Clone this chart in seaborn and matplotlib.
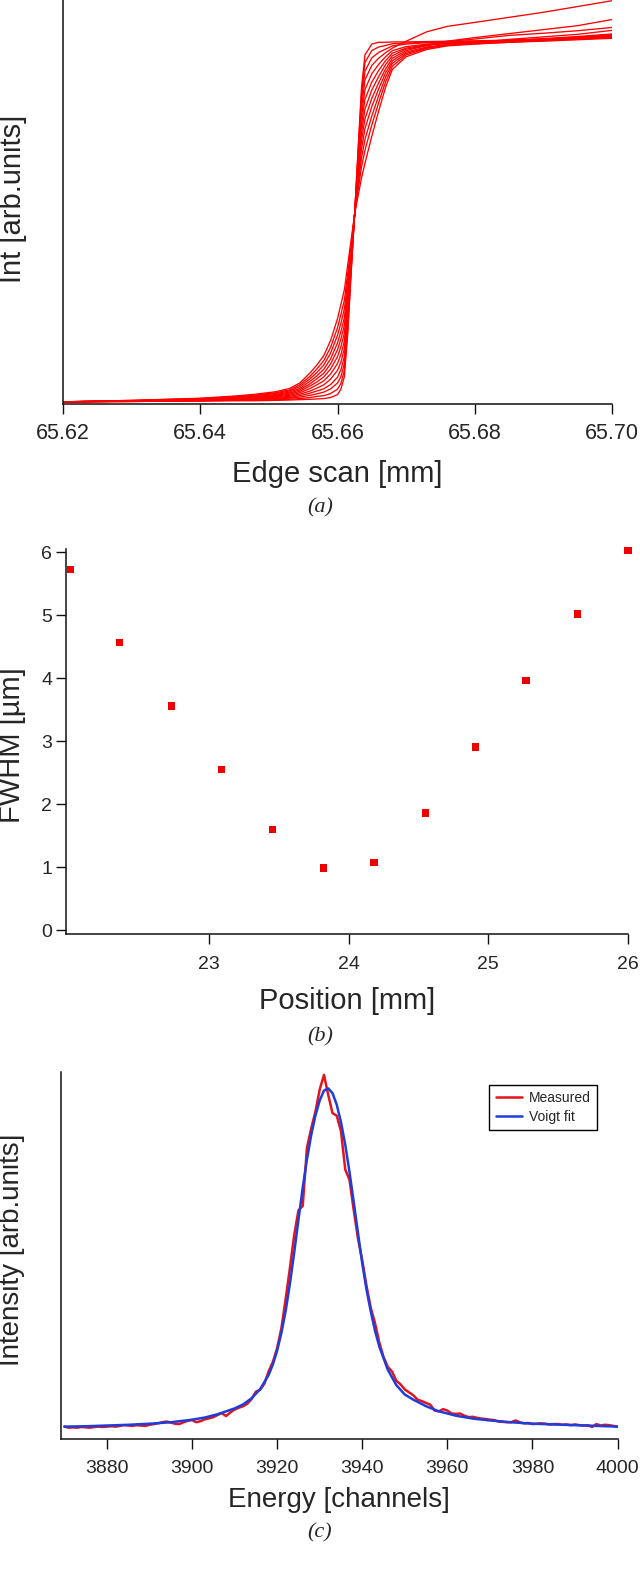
import numpy as np
import pandas as pd
import matplotlib
matplotlib.use('Agg')
import matplotlib.pyplot as plt
import seaborn as sns

sns.set_theme(style='ticks')
plt.rcParams['font.family'] = ['Liberation Sans', 'DejaVu Sans']

# (a) edge scans: stage position [mm] and normalised intensity of each scan
edge_pos = [65.620, 65.630, 65.640, 65.645, 65.648, 65.651, 65.653, 65.6545, 65.656, 65.657,
            65.658, 65.659, 65.660, 65.6605, 65.661, 65.6615, 65.662, 65.6625, 65.663, 65.6635,
            65.664, 65.665, 65.666, 65.667, 65.668, 65.670, 65.673, 65.676, 65.680, 65.685,
            65.690, 65.695, 65.700]
edge_scans = [
    [0.000, 0.001, 0.002, 0.003, 0.003, 0.004, 0.005, 0.006, 0.007, 0.008, 0.009,
     0.012, 0.020, 0.035, 0.070, 0.190, 0.360, 0.520, 0.700, 0.870, 0.960, 0.990,
     0.995, 0.995, 0.996, 0.996, 0.997, 0.998, 0.999, 1.001, 1.004, 1.008, 1.013],
    [0.000, 0.001, 0.003, 0.004, 0.004, 0.006, 0.007, 0.009, 0.012, 0.015, 0.017,
     0.023, 0.035, 0.051, 0.087, 0.203, 0.366, 0.520, 0.691, 0.852, 0.939, 0.972,
     0.982, 0.986, 0.991, 0.993, 0.995, 0.997, 1.004, 1.014, 1.020, 1.027, 1.036],
    [0.000, 0.001, 0.003, 0.005, 0.006, 0.008, 0.010, 0.013, 0.018, 0.022, 0.027,
     0.036, 0.052, 0.070, 0.106, 0.219, 0.374, 0.520, 0.681, 0.833, 0.915, 0.952,
     0.967, 0.976, 0.985, 0.990, 0.994, 0.996, 0.998, 1.000, 1.004, 1.009, 1.016],
    [0.000, 0.002, 0.004, 0.006, 0.007, 0.010, 0.012, 0.017, 0.024, 0.030, 0.036,
     0.048, 0.068, 0.089, 0.125, 0.234, 0.381, 0.520, 0.670, 0.813, 0.891, 0.931,
     0.951, 0.966, 0.979, 0.998, 1.024, 1.039, 1.050, 1.064, 1.078, 1.094, 1.110],
    [0.000, 0.002, 0.005, 0.007, 0.009, 0.012, 0.015, 0.021, 0.030, 0.038, 0.047,
     0.063, 0.087, 0.110, 0.147, 0.251, 0.389, 0.520, 0.658, 0.790, 0.864, 0.908,
     0.934, 0.955, 0.972, 0.983, 0.990, 0.994, 0.996, 0.999, 1.001, 1.004, 1.008],
    [0.000, 0.002, 0.005, 0.008, 0.010, 0.014, 0.018, 0.025, 0.037, 0.047, 0.058,
     0.077, 0.106, 0.131, 0.168, 0.268, 0.397, 0.520, 0.647, 0.768, 0.837, 0.885,
     0.917, 0.944, 0.965, 0.979, 0.988, 0.993, 0.996, 1.000, 1.005, 1.011, 1.018],
    [0.000, 0.002, 0.006, 0.010, 0.012, 0.016, 0.021, 0.029, 0.044, 0.055, 0.069,
     0.091, 0.125, 0.153, 0.190, 0.285, 0.405, 0.520, 0.635, 0.745, 0.810, 0.863,
     0.900, 0.933, 0.958, 0.976, 0.986, 0.992, 0.995, 0.998, 1.002, 1.006, 1.010],
    [0.000, 0.003, 0.007, 0.011, 0.014, 0.018, 0.024, 0.033, 0.050, 0.064, 0.079,
     0.105, 0.144, 0.174, 0.212, 0.302, 0.413, 0.520, 0.623, 0.723, 0.783, 0.840,
     0.883, 0.921, 0.951, 0.972, 0.986, 0.998, 1.008, 1.019, 1.030, 1.041, 1.058],
    [0.000, 0.003, 0.007, 0.012, 0.015, 0.020, 0.027, 0.037, 0.057, 0.072, 0.090,
     0.119, 0.163, 0.195, 0.233, 0.319, 0.421, 0.520, 0.612, 0.700, 0.756, 0.817,
     0.866, 0.910, 0.944, 0.968, 0.982, 0.989, 0.993, 0.997, 1.002, 1.007, 1.014],
    [0.000, 0.003, 0.008, 0.013, 0.017, 0.023, 0.030, 0.042, 0.064, 0.081, 0.102,
     0.135, 0.184, 0.218, 0.257, 0.338, 0.430, 0.520, 0.599, 0.675, 0.726, 0.791,
     0.847, 0.898, 0.937, 0.964, 0.980, 0.988, 0.994, 1.003, 1.010, 1.017, 1.028],
    [0.000, 0.004, 0.009, 0.014, 0.019, 0.025, 0.033, 0.047, 0.071, 0.091, 0.114,
     0.151, 0.205, 0.242, 0.281, 0.357, 0.439, 0.520, 0.586, 0.650, 0.696, 0.766,
     0.828, 0.885, 0.929, 0.960, 0.978, 0.987, 0.991, 0.995, 0.998, 1.002, 1.006],
    [0.000, 0.004, 0.010, 0.016, 0.021, 0.028, 0.037, 0.052, 0.080, 0.102, 0.128,
     0.170, 0.230, 0.270, 0.310, 0.380, 0.450, 0.520, 0.570, 0.620, 0.660, 0.735,
     0.805, 0.870, 0.920, 0.955, 0.975, 0.985, 0.990, 0.995, 1.000, 1.005, 1.012],
]
edge_ticks = [65.62, 65.64, 65.66, 65.68, 65.70]

# (b) focus scan
position_mm = [22.006, 22.36, 22.73, 23.09, 23.456, 23.82, 24.18, 24.55, 24.91, 25.27, 25.64, 26.0]
fwhm_um = [5.72, 4.57, 3.56, 2.55, 1.60, 0.99, 1.07, 1.86, 2.91, 3.96, 5.02, 6.03]

# (c) spectrum, one value per channel from 3870 to 4000
channels = np.arange(3870, 4001)
measured = [
    0.034, 0.031, 0.032, 0.031, 0.033, 0.032, 0.031, 0.033, 0.034, 0.033,
    0.034, 0.035, 0.034, 0.036, 0.038, 0.037, 0.036, 0.038, 0.037, 0.036,
    0.039, 0.041, 0.043, 0.046, 0.048, 0.045, 0.042, 0.041, 0.046, 0.050,
    0.052, 0.046, 0.049, 0.054, 0.057, 0.060, 0.066, 0.071, 0.063, 0.073,
    0.081, 0.086, 0.090, 0.097, 0.110, 0.130, 0.135, 0.152, 0.186, 0.212,
    0.250, 0.305, 0.385, 0.470, 0.560, 0.628, 0.640, 0.800, 0.853, 0.900,
    0.960, 1.000, 0.945, 0.895, 0.888, 0.845, 0.740, 0.712, 0.628, 0.550,
    0.490, 0.420, 0.360, 0.318, 0.265, 0.225, 0.198, 0.185, 0.160, 0.150,
    0.136, 0.128, 0.120, 0.108, 0.104, 0.099, 0.094, 0.078, 0.076, 0.082,
    0.078, 0.070, 0.069, 0.070, 0.064, 0.060, 0.061, 0.058, 0.056, 0.055,
    0.053, 0.052, 0.048, 0.047, 0.046, 0.046, 0.051, 0.046, 0.043, 0.044,
    0.041, 0.042, 0.043, 0.042, 0.040, 0.041, 0.041, 0.039, 0.040, 0.038,
    0.040, 0.038, 0.037, 0.038, 0.033, 0.041, 0.037, 0.039, 0.038, 0.036,
    0.034,
]
fit_ch = [3870, 3875, 3880, 3885, 3890, 3895, 3900, 3903, 3906, 3908, 3910, 3912, 3914, 3916,
          3918, 3919, 3920, 3921, 3922, 3923, 3924, 3925, 3926, 3927, 3928, 3929, 3930, 3931,
          3932, 3933, 3934, 3935, 3936, 3937, 3938, 3939, 3940, 3941, 3942, 3943, 3944, 3946,
          3948, 3950, 3952, 3955, 3958, 3962, 3966, 3970, 3975, 3980, 3985, 3990, 3995, 4000]
fit_val = [0.034, 0.035, 0.037, 0.039, 0.042, 0.046, 0.053, 0.059, 0.068, 0.076, 0.084, 0.095,
           0.112, 0.137, 0.176, 0.205, 0.243, 0.292, 0.352, 0.427, 0.512, 0.602, 0.690, 0.768,
           0.835, 0.889, 0.930, 0.957, 0.963, 0.950, 0.918, 0.870, 0.808, 0.733, 0.650, 0.565,
           0.482, 0.410, 0.350, 0.297, 0.254, 0.190, 0.148, 0.122, 0.108, 0.090, 0.076, 0.064,
           0.056, 0.051, 0.046, 0.042, 0.040, 0.038, 0.036, 0.034]

RED = '#ff0000'
RED_C = '#e3141c'
BLUE_C = '#1f3ddb'
W, H = 640, 1569

fig = plt.figure(figsize=(6.4, 15.69), dpi=100)


def px_axes(left, top, right, bottom):
    return fig.add_axes([left / W, 1 - bottom / H, (right - left) / W, (bottom - top) / H])


def style(ax, xsize, xpad, ylen=None):
    sns.despine(ax=ax)
    for s in ('left', 'bottom'):
        ax.spines[s].set_linewidth(1.1)
        ax.spines[s].set_color('#111111')
    ax.tick_params(axis='x', direction='out', length=7, width=1.0, pad=xpad,
                   labelsize=xsize, color='#111111')
    if ylen is None:
        ax.set_yticks([])
    else:
        ax.tick_params(axis='y', direction='out', length=ylen, width=1.0, pad=3,
                       labelsize=14, color='#111111')


def labels(ax, xl, yl, size, xy, yx, yy):
    ax.set_xlabel(xl, fontsize=size)
    ax.set_ylabel(yl, fontsize=size)
    ax.xaxis.set_label_coords(0.5, xy)
    ax.yaxis.set_label_coords(yx, yy)
    ax.xaxis.label.set_va('center')
    ax.yaxis.label.set_va('center')


# ---- (a)
ax1 = px_axes(63, 0, 612, 404)
rows = []
for k, vals in enumerate(edge_scans):
    for p, v in zip(edge_pos, vals):
        rows.append((k, p, v))
df_a = pd.DataFrame(rows, columns=['scan', 'pos', 'val'])
sns.lineplot(data=df_a, x='pos', y='val', units='scan', estimator=None,
             color=RED, lw=0.95, ax=ax1)
ax1.set_xlim(65.62, 65.70)
ax1.set_ylim(-0.006, 1.112)
ax1.set_xticks(edge_ticks)
ax1.set_xticklabels(['%.2f' % t for t in edge_ticks])
style(ax1, 15.5, 7)
labels(ax1, 'Edge scan [mm]', 'Int [arb.units]', 21, -0.173, -0.091, 0.507)

# ---- (b)
ax2 = px_axes(66, 549, 628, 934)
sns.scatterplot(x=position_mm, y=fwhm_um, marker='s', s=28, color='#ee0000',
                edgecolor='none', linewidth=0, clip_on=False, ax=ax2)
ax2.set_xlim(21.975, 26.0)
ax2.set_ylim(-0.06, 6.05)
ax2.set_xticks([23, 24, 25, 26])
ax2.set_yticks([0, 1, 2, 3, 4, 5, 6])
style(ax2, 14, 9, ylen=7)
labels(ax2, 'Position [mm]', 'FWHM [µm]', 21, -0.174, -0.096, 0.49)

# ---- (c)
ax3 = px_axes(61, 1072, 617.6, 1439)
sns.lineplot(x=channels, y=measured, color=RED_C, lw=1.8, label='Measured', ax=ax3)
sns.lineplot(x=fit_ch, y=fit_val, color=BLUE_C, lw=1.8, label='Voigt fit', ax=ax3)
ax3.set_xlim(3869.2, 4000)
ax3.set_ylim(0, 1.008)
ax3.set_xticks([3880, 3900, 3920, 3940, 3960, 3980, 4000])
style(ax3, 14, 8)
labels(ax3, 'Energy [channels]', 'Intensity [arb.units]', 20, -0.166, -0.088, 0.515)
leg = ax3.legend(loc='upper right', bbox_to_anchor=(0.963, 0.965), borderaxespad=0,
                 fontsize=10, handlelength=1.9, borderpad=0.45, labelspacing=0.35,
                 handletextpad=0.5, fancybox=False, framealpha=1, edgecolor='black')
leg.get_frame().set_linewidth(1.0)

# panel captions
for lab, yp in (('(a)', 508), ('(b)', 1037), ('(c)', 1533)):
    fig.text(320 / W, 1 - yp / H, lab, ha='center', va='center', fontsize=16,
             family=['Liberation Serif', 'DejaVu Serif'], style='italic')

fig.savefig('out.png', dpi=100)
